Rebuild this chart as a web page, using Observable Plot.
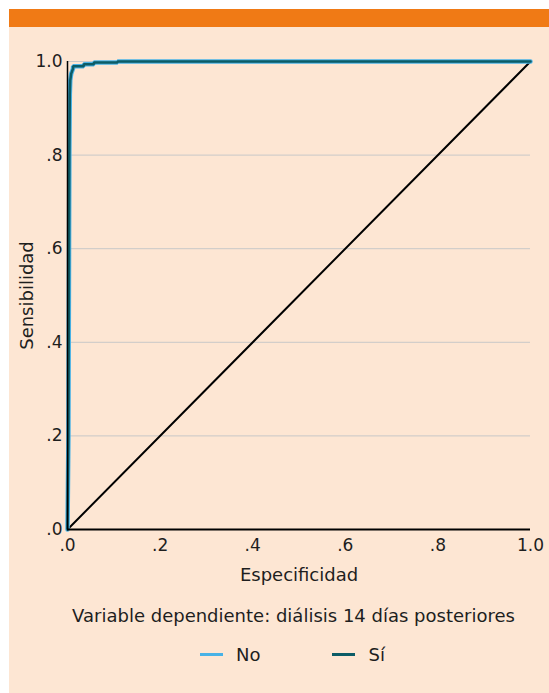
<!DOCTYPE html>
<html>
<head>
<meta charset="utf-8">
<script src="https://cdn.jsdelivr.net/npm/d3@7"></script>
<script src="https://cdn.jsdelivr.net/npm/@observablehq/plot@0.6"></script>
<style>
  html, body { margin: 0; padding: 0; background: #ffffff; }
  #page { position: relative; width: 549px; height: 693px; overflow: hidden; background: #ffffff; font-family: "DejaVu Sans", sans-serif; color: #1e1e1e; }
  #panel { position: absolute; left: 9px; top: 9px; width: 540px; height: 684px; background: #fde6d3; }
  #band { position: absolute; left: 9px; top: 9px; width: 540px; height: 18px; background: #f07a15; }
  #chart { position: absolute; left: 9px; top: 27px; }
  #caption { position: absolute; left: 0; width: 587px; top: 605px; text-align: center; font-size: 18px; }
  #legend { position: absolute; top: 644px; left: 200px; font-size: 18px; display: flex; align-items: center; }
  .sw { display: inline-block; width: 23px; height: 0; border-top: 3px solid; margin-right: 13px; }
  .item { display: flex; align-items: center; }
</style>
</head>
<body>
<div id="page">
  <div id="panel"></div>
  <div id="band"></div>
  <div id="chart"></div>
  <div id="caption">Variable dependiente: diálisis 14 días posteriores</div>
  <div id="legend"></div>
</div>
<script>
// ROC curve corner points (1 - especificidad, sensibilidad)
const rocX = [0, 0.002, 0.003, 0.004, 0.005, 0.006, 0.008, 0.012, 0.012, 0.035, 0.035, 0.057, 0.057, 0.108, 0.108, 1.0];
const rocY = [0, 0.20, 0.50, 0.80, 0.93, 0.96, 0.974, 0.985, 0.990, 0.990, 0.994, 0.994, 0.998, 0.998, 1.0, 1.0];
const seriesNames = ["No", "Sí"];
const seriesColors = ["#48b2e6", "#0c5c66"];
const diagX = [0, 1];
const diagY = [0, 1];
const ticks = [0, 0.2, 0.4, 0.6, 0.8, 1.0];
const tickLabels = [".0", ".2", ".4", ".6", ".8", "1.0"];
const gridTicks = [0.2, 0.4, 0.6, 0.8, 1.0];

const roc = [];
for (const s of seriesNames) rocX.forEach((x, i) => roc.push({serie: s, x, y: rocY[i]}));
const diag = diagX.map((x, i) => ({x, y: diagY[i]}));
const fmt = d => tickLabels[ticks.findIndex(t => Math.abs(t - d) < 1e-9)];

const chart = Plot.plot({
  width: 540,
  height: 575,
  marginLeft: 58,
  marginRight: 19,
  marginTop: 34,
  marginBottom: 73,
  style: { background: "transparent", fontFamily: "'DejaVu Sans', sans-serif", fontSize: "17px", color: "#1e1e1e" },
  x: { domain: [0, 1] },
  y: { domain: [0, 1] },
  marks: [
    Plot.gridY(gridTicks, { stroke: "#c8c8c8", strokeOpacity: 1, strokeWidth: 1 }),
    Plot.axisX(ticks, { tickSize: 0, tickPadding: 9, tickFormat: fmt, fontSize: 17, label: null }),
    Plot.axisX({ ticks: [], tickSize: 0, label: "Especificidad", labelAnchor: "center", labelArrow: "none", labelOffset: 51, fontSize: 18 }),
    Plot.axisY(ticks, { tickSize: 0, tickPadding: 5, tickFormat: fmt, fontSize: 17, label: null }),
    Plot.axisY({ ticks: [], tickSize: 0, label: "Sensibilidad", labelAnchor: "center", labelArrow: "none", labelOffset: 47, fontSize: 18 }),
    Plot.line(diag, { x: "x", y: "y", stroke: "#000", strokeWidth: 2 }),
    Plot.line(roc.filter(d => d.serie === "No"), { x: "x", y: "y", stroke: seriesColors[0], strokeWidth: 4.5, strokeLinejoin: "miter" }),
    Plot.line(roc.filter(d => d.serie === "Sí"), { x: "x", y: "y", stroke: seriesColors[1], strokeWidth: 2.5, strokeLinejoin: "miter" }),
    Plot.ruleX([0], { stroke: "#000", strokeWidth: 1.5 }),
    Plot.ruleY([0], { stroke: "#000", strokeWidth: 2 })
  ]
});
document.getElementById("chart").appendChild(chart);

const legend = document.getElementById("legend");
seriesNames.forEach((name, i) => {
  const item = document.createElement("div");
  item.className = "item";
  item.style.marginRight = i === 0 ? "72px" : "0";
  const sw = document.createElement("span");
  sw.className = "sw";
  sw.style.borderTopColor = seriesColors[i];
  const t = document.createElement("span");
  t.textContent = name;
  item.appendChild(sw);
  item.appendChild(t);
  legend.appendChild(item);
});
</script>
</body>
</html>
